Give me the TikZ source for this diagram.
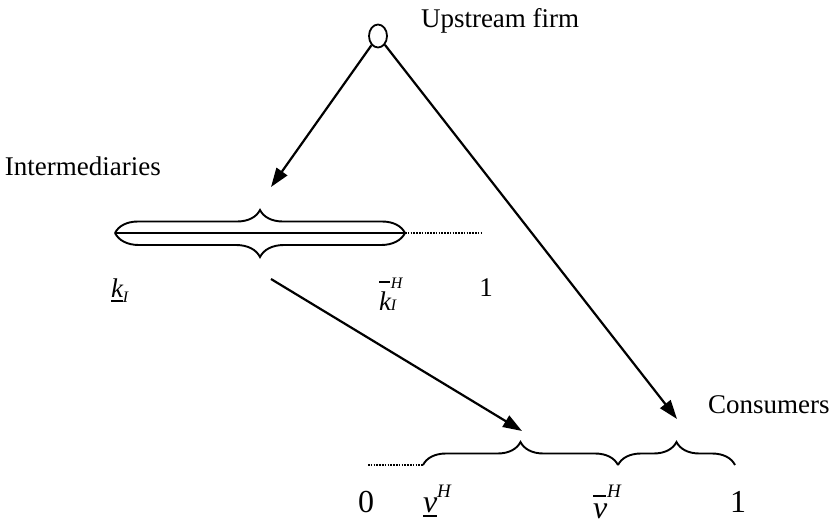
\documentclass[tikz,border=0pt]{standalone}
\usepackage{fontspec}
\setmainfont{Liberation Serif}
\usetikzlibrary{decorations.pathreplacing,arrows.meta,shapes.geometric}
\newcommand{\myul}[2]{\setbox0\hbox{#2}\rlap{\rule[-#1]{\wd0}{1.8pt}}\box0}
\newcommand{\mybar}[2]{\setbox0\hbox{#2}\rlap{\raisebox{#1}{\rule{0.9\wd0}{1.8pt}}}\box0}
\newcommand{\fs}[1]{\fontsize{#1}{#1}\selectfont}
\begin{document}
\begin{tikzpicture}[x=1pt,y=-1pt,
  lbl/.style={inner sep=0pt,outer sep=0pt,anchor=base west,font=\fs{27pt}},
  big/.style={inner sep=0pt,outer sep=0pt,anchor=base west,font=\fs{32pt}},
  arr/.style={draw,line width=2.2pt,-{Triangle[length=19pt,width=13pt]}},
  axisline/.style={draw,line width=2pt},
  dotline/.style={draw,line width=2pt,dash pattern=on 1.5pt off 1.3pt},
  brc/.style={draw,line width=1.9pt,decorate}]
\useasboundingbox (0,0) rectangle (835,525);

% upstream firm
\node[draw,ellipse,line width=1.8pt,minimum width=18pt,minimum height=23pt,inner sep=0pt] (firm) at (378,36) {};
\node[lbl] (firmlbl) at (421,27) {Upstream firm};

% intermediaries
\node[lbl] (interlbl) at (5,175) {Intermediaries};
\coordinate (iL) at (115,233);
\coordinate (iR) at (405,233);
\coordinate (iD) at (483,233);
\draw[axisline] (iL) -- (iR);
\draw[dotline] (iR) -- (iD);
\draw[brc,decoration={brace,amplitude=23pt}] (iL) -- (iR);
\draw[brc,decoration={brace,amplitude=24pt}] (iR) -- (iL);

\node[lbl] (klow) at (111,297) {\myul{5pt}{\itshape k}\raisebox{-5pt}{\fs{16pt}\itshape I}};
\node[lbl] (khigh) at (379,310) {\mybar{27pt}{\itshape k}\rlap{\raisebox{22pt}{\fs{16pt}\itshape H}}{\fs{16pt}\itshape I}};
\node[lbl,anchor=base] (ione) at (486,296) {1};

% consumers
\node[lbl] (conslbl) at (708,413) {Consumers};
\coordinate (cD) at (368,465);
\coordinate (cL) at (423,465);
\coordinate (cM) at (618,465);
\coordinate (cR) at (735,465);
\draw[dotline] (cD) -- (cL);
\draw[brc,decoration={brace,amplitude=23pt}] (cL) -- (cM);
\draw[brc,decoration={brace,amplitude=23pt}] (cM) -- (cR);

\node[big,anchor=base] (czero) at (366,512) {0};
\node[big] (vlow) at (423,512) {\myul{5pt}{\itshape v}\raisebox{15pt}{\fs{19pt}\itshape H}};
\node[big] (vhigh) at (593,518) {\mybar{21pt}{\itshape v}\raisebox{21pt}{\fs{19pt}\itshape H}};
\node[big,anchor=base] (cone) at (738,512) {1};

% arrows
\coordinate (t1) at (271,187);
\coordinate (t2) at (677,419);
\coordinate (s3) at (271,279);
\coordinate (t3) at (522,431);
\draw[arr] (firm) -- (t1);
\draw[arr] (firm) -- (t2);
\draw[arr] (s3) -- (t3);
\end{tikzpicture}
\end{document}
